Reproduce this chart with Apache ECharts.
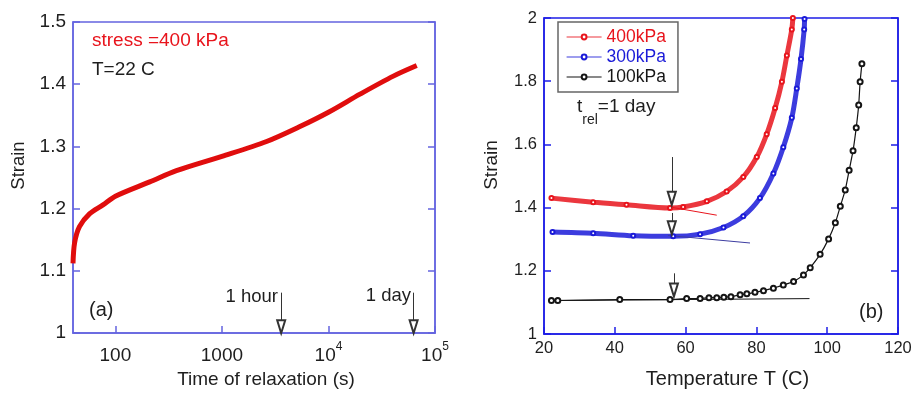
<!DOCTYPE html>
<html>
<head>
<meta charset="utf-8">
<script src="https://cdn.jsdelivr.net/npm/echarts@6/dist/echarts.min.js"></script>
<style>
  html, body { margin: 0; padding: 0; background: #fff; }
  #chart { width: 919px; height: 394px; }
</style>
</head>
<body>
<div id="chart"></div>
<script>
// panel (a): strain vs relaxation time (s), 400 kPa, 22 C
const relaxTime = [40, 41.4, 46, 57.4, 76.5, 100, 210, 374, 1000, 2624, 5396, 10000, 19770, 40650, 67400];
const relaxStrain = [1.112, 1.145, 1.171, 1.192, 1.206, 1.220, 1.243, 1.261, 1.284, 1.308, 1.332, 1.355, 1.384, 1.413, 1.430];
const timeTicks = [100, 1000, 10000, 100000];

// panel (b): strain vs temperature after 1 day of relaxation
const temp400 = [22.1, 33.9, 43.3, 55.6, 59.3, 66.0, 71.6, 76.3, 80.1, 82.9, 85.3, 87.2, 88.6, 90.0, 90.3];
const strain400 = [1.430, 1.417, 1.409, 1.399, 1.402, 1.420, 1.451, 1.497, 1.560, 1.632, 1.715, 1.798, 1.881, 1.964, 2.0];
const temp300 = [22.4, 33.9, 45.2, 56.5, 64.1, 70.7, 76.3, 81.0, 84.8, 87.6, 90.0, 91.4, 92.6, 93.5, 93.6];
const strain300 = [1.323, 1.319, 1.311, 1.309, 1.316, 1.337, 1.373, 1.430, 1.508, 1.591, 1.684, 1.777, 1.870, 1.964, 1.997];
const temp100 = [22.1, 23.9, 41.4, 55.6, 60.3, 64.1, 66.6, 68.8, 70.8, 72.8, 75.4, 77.3, 79.6, 82.0, 84.8, 87.6, 90.5, 93.3,
  95.2, 98.0, 100.4, 102.3, 103.7, 105.1, 106.2, 107.3, 108.2, 108.9, 109.3, 109.8];
const strain100 = [1.106, 1.106, 1.109, 1.109, 1.112, 1.112, 1.115, 1.115, 1.116, 1.118, 1.124, 1.127, 1.132, 1.137, 1.145, 1.155, 1.166, 1.187,
  1.210, 1.252, 1.301, 1.352, 1.404, 1.456, 1.518, 1.580, 1.653, 1.725, 1.798, 1.855];

// straight tangent lines drawn at low temperature
const fit400 = [[55, 1.403], [68.8, 1.376]];
const fit300 = [[55, 1.312], [78.2, 1.288]];
const fit100 = [[22, 1.106], [95, 1.112]];

// arrows: [x, top strain, tip strain]
const arrowsA = [[3600, 1.065, 1.0], [63000, 1.065, 1.0]];
const arrowsB = [[56.1, 1.560, 1.409], [56.1, 1.383, 1.316], [56.7, 1.192, 1.119]];

const FONT = '"Liberation Sans", Arial, sans-serif';
const TEXT = '#1e1e1e';
const FRAME_A = '#6464e0';
const FRAME_B = '#1e1ee6';
const RED = '#e8141c';
const BLUE = '#1a1ad8';
const BLACK = '#151515';

const pairs = (xs, ys) => xs.map((x, i) => [x, ys[i]]);

// arrow head is centred on the end point, so stop the line half a head above the tip
function arrowLines(list, toX, pxPerUnit) {
  return list.map(([x, top, tip]) => [
    { coord: [toX(x), top] },
    { coord: [toX(x), tip + 6.5 / pxPerUnit] }
  ]);
}

function arrowMark(list, toX, pxPerUnit) {
  return {
    silent: true,
    symbol: ['none', 'emptyTriangle'],
    symbolSize: [8, 13],
    label: { show: false },
    lineStyle: { color: '#333', width: 1, type: 'solid' },
    emphasis: { disabled: true },
    data: arrowLines(list, toX, pxPerUnit)
  };
}

function frameAxis(color, extraTick) {
  return {
    axisLine: { show: true, onZero: false, lineStyle: { color: color, width: 1.5 } },
    axisTick: Object.assign({ show: true, inside: true, length: 7, lineStyle: { color: color, width: 1.5 } }, extraTick || {}),
    splitLine: { show: false }
  };
}

const chart = echarts.init(document.getElementById('chart'));

chart.setOption({
  animation: false,
  textStyle: { fontFamily: FONT },
  grid: [
    { left: 73, top: 22, width: 362, height: 316, show: true, borderColor: FRAME_A, borderWidth: 1.5 },
    { left: 544, top: 18, width: 354, height: 322, show: true, borderColor: FRAME_B, borderWidth: 1.5 }
  ],
  xAxis: [
    Object.assign(frameAxis(FRAME_A, { customValues: timeTicks.map(Math.log10) }), {
      gridIndex: 0,
      type: 'value',
      min: Math.log10(40),
      max: 5,
      name: 'Time of relaxation (s)',
      nameLocation: 'middle',
      nameGap: 34,
      nameTextStyle: { fontSize: 19, color: TEXT, padding: [0, 0, 0, 24] },
      axisLabel: {
        customValues: timeTicks.map(Math.log10),
        margin: 8,
        formatter: (v) => (v < 3.5 ? '{b|' + Math.round(Math.pow(10, v)) + '}' : '{b|10}{sup|' + Math.round(v) + '}'),
        rich: {
          b: { fontSize: 19, lineHeight: 24, color: TEXT, verticalAlign: 'bottom' },
          sup: { fontSize: 12, lineHeight: 12, color: TEXT, verticalAlign: 'top' }
        }
      }
    }),
    Object.assign(frameAxis(FRAME_B), {
      gridIndex: 1,
      type: 'value',
      min: 20,
      max: 120,
      interval: 20,
      name: 'Temperature T (C)',
      nameLocation: 'middle',
      nameGap: 35,
      nameTextStyle: { fontSize: 20, color: TEXT, padding: [0, 0, 0, 13] },
      axisLabel: { fontSize: 16.5, color: TEXT, margin: 6 }
    })
  ],
  yAxis: [
    Object.assign(frameAxis(FRAME_A), {
      gridIndex: 0,
      type: 'value',
      min: 1,
      max: 1.5,
      interval: 0.1,
      name: 'Strain',
      nameLocation: 'middle',
      nameGap: 45,
      nameTextStyle: { fontSize: 18.5, color: TEXT, padding: [0, 0, 0, 24] },
      axisLabel: { fontSize: 19, color: TEXT, margin: 7 }
    }),
    Object.assign(frameAxis(FRAME_A), {
      gridIndex: 0, type: 'value', position: 'right', min: 1, max: 1.5, interval: 0.1,
      axisLabel: { show: false }
    }),
    Object.assign(frameAxis(FRAME_B), {
      gridIndex: 1,
      type: 'value',
      min: 1,
      max: 2,
      interval: 0.2,
      name: 'Strain',
      nameLocation: 'middle',
      nameGap: 43,
      nameTextStyle: { fontSize: 19, color: TEXT, padding: [0, 0, 0, 22] },
      axisLabel: { fontSize: 16.5, color: TEXT, margin: 7 }
    }),
    Object.assign(frameAxis(FRAME_B), {
      gridIndex: 1, type: 'value', position: 'right', min: 1, max: 2, interval: 0.2,
      axisLabel: { show: false }
    })
  ],
  legend: {
    left: 558,
    top: 22,
    orient: 'vertical',
    padding: [6, 12, 6, 8],
    itemGap: 2,
    itemWidth: 35,
    itemHeight: 6,
    borderColor: '#666',
    borderWidth: 1.5,
    lineStyle: { width: 1.2 },
    textStyle: { fontSize: 17.5, fontFamily: FONT },
    data: [
      { name: '400kPa', textStyle: { color: RED } },
      { name: '300kPa', textStyle: { color: BLUE } },
      { name: '100kPa', textStyle: { color: BLACK } }
    ]
  },
  graphic: [
    { type: 'text', x: 92, y: 41, style: { text: 'stress =400 kPa', fill: RED, font: '19px ' + FONT, verticalAlign: 'middle' } },
    { type: 'text', x: 92, y: 70, style: { text: 'T=22 C', fill: TEXT, font: '19px ' + FONT, verticalAlign: 'middle' } },
    { type: 'text', x: 89, y: 310, style: { text: '(a)', fill: TEXT, font: '20px ' + FONT, verticalAlign: 'middle' } },
    { type: 'text', x: 278, y: 297, style: { text: '1 hour', fill: TEXT, font: '18.5px ' + FONT, align: 'right', verticalAlign: 'middle' } },
    { type: 'text', x: 411, y: 296, style: { text: '1 day', fill: TEXT, font: '18.5px ' + FONT, align: 'right', verticalAlign: 'middle' } },
    { type: 'text', x: 859, y: 312, style: { text: '(b)', fill: TEXT, font: '20px ' + FONT, verticalAlign: 'middle' } },
    {
      type: 'text', x: 577, y: 97,
      style: {
        text: '{a|t}{s|rel}{a|=1 day}',
        rich: {
          a: { fontSize: 19, fontFamily: FONT, fill: TEXT, lineHeight: 22, verticalAlign: 'top' },
          s: { fontSize: 14, fontFamily: FONT, fill: TEXT, lineHeight: 14, padding: [16, 0, 0, 0], verticalAlign: 'top' }
        }
      }
    }
  ],
  series: [
    {
      type: 'line',
      xAxisIndex: 0,
      yAxisIndex: 0,
      data: pairs(relaxTime.map(Math.log10), relaxStrain),
      showSymbol: false,
      smooth: 0.3,
      lineStyle: { color: '#e00d0d', width: 5 },
      markLine: arrowMark(arrowsA, Math.log10, 632)
    },
    {
      name: '400kPa',
      type: 'line',
      xAxisIndex: 1,
      yAxisIndex: 2,
      data: pairs(temp400, strain400),
      smooth: 0.3,
      symbol: 'emptyCircle',
      symbolSize: 4,
      itemStyle: { color: RED, borderWidth: 1 },
      lineStyle: { color: RED, width: 5, opacity: 0.85 }
    },
    {
      name: '300kPa',
      type: 'line',
      xAxisIndex: 1,
      yAxisIndex: 2,
      data: pairs(temp300, strain300),
      smooth: 0.3,
      symbol: 'emptyCircle',
      symbolSize: 4,
      itemStyle: { color: BLUE, borderWidth: 1 },
      lineStyle: { color: BLUE, width: 5, opacity: 0.85 }
    },
    {
      name: '100kPa',
      type: 'line',
      xAxisIndex: 1,
      yAxisIndex: 2,
      data: pairs(temp100, strain100),
      smooth: 0.2,
      symbol: 'emptyCircle',
      symbolSize: 5,
      itemStyle: { color: BLACK, borderWidth: 1 },
      lineStyle: { color: BLACK, width: 1.2 }
    },
    {
      type: 'line', xAxisIndex: 1, yAxisIndex: 2, data: fit400, showSymbol: false,
      lineStyle: { color: RED, width: 1 },
      markLine: arrowMark(arrowsB, (x) => x, 321.7)
    },
    {
      type: 'line', xAxisIndex: 1, yAxisIndex: 2, data: fit300, showSymbol: false,
      lineStyle: { color: '#3c3ca0', width: 1 }
    },
    {
      type: 'line', xAxisIndex: 1, yAxisIndex: 2, data: fit100, showSymbol: false,
      lineStyle: { color: BLACK, width: 1 }
    }
  ]
});
</script>
</body>
</html>
